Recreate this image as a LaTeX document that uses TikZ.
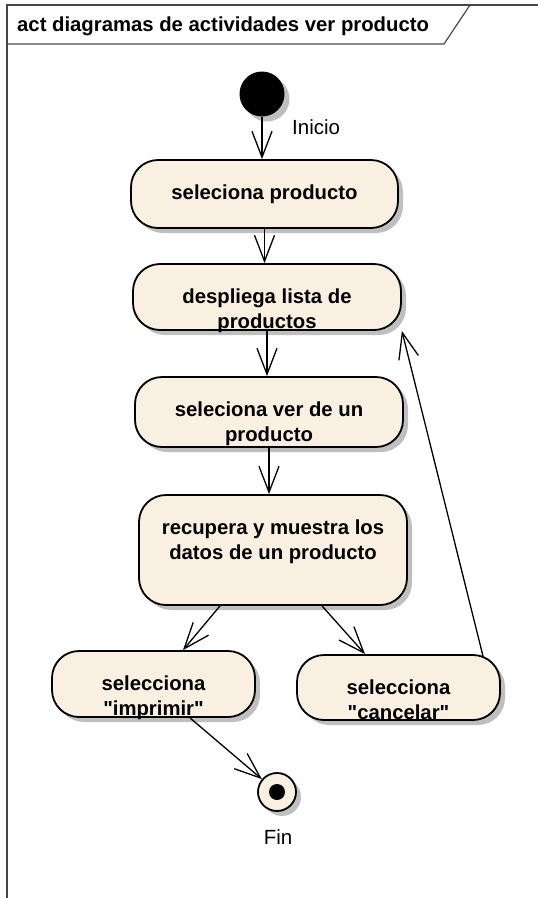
\documentclass[tikz,border=0pt]{standalone}
\usepackage{fontspec}
\setmainfont{Liberation Sans}
\usetikzlibrary{arrows.meta,shadows}

\definecolor{actfill}{RGB}{250,240,226}
\definecolor{framegray}{RGB}{70,70,70}

\tikzset{
  sombra/.style={drop shadow={shadow xshift=5pt, shadow yshift=-5pt, fill=black!25, opacity=1}},
  act/.style={draw, line width=1.8pt, fill=actfill, rounded corners=27pt, inner sep=0pt, sombra},
  txt/.style={font=\fontsize{20.3}{25}\selectfont\bfseries, align=center, anchor=north, inner sep=0pt, yshift=-25pt},
  flow/.style={line width=1.3pt, -{Straight Barb[length=26pt,width=20pt]}},
  note/.style={font=\fontsize{20.5}{24}\selectfont, inner sep=0pt}
}

\begin{document}
\begin{tikzpicture}[x=1pt,y=-1pt]
\useasboundingbox (0,0) rectangle (538,898);

% Frame
\draw[framegray, line width=1.2pt] (7,898) -- (7,5) -- (538,5);
\draw[framegray, line width=1.2pt] (7,44) -- (444,44) -- (470,5);
\node[font=\fontsize{20.3}{24}\selectfont\bfseries, anchor=west, inner sep=0pt] (titulo) at (17,26)
  {act diagramas de actividades ver producto};

% Initial node
\node[circle, fill=black, minimum size=45pt, inner sep=0pt, sombra] (inicio) at (262,94) {};
\node[note, anchor=west] (inicioetq) at (292,127) {Inicio};

% Actions
\node[act, minimum width=267pt, minimum height=68pt,
  label={[txt]north:seleciona producto}] (seleciona) at (264.5,194) {};
\node[act, minimum width=268pt, minimum height=66pt,
  label={[txt]north:{despliega lista de\\productos}}] (lista) at (267,297) {};
\node[act, minimum width=268pt, minimum height=70pt,
  label={[txt]north:{seleciona ver de un\\producto}}] (ver) at (269,412) {};
\node[act, minimum width=268pt, minimum height=110pt,
  label={[txt]north:{recupera y muestra los\\datos de un producto}}] (datos) at (273,550) {};
\node[act, minimum width=203pt, minimum height=66pt,
  label={[txt]north:{selecciona\\\textquotedbl imprimir\textquotedbl}}] (imprimir) at (153.5,684) {};
\node[act, minimum width=203pt, minimum height=65pt,
  label={[txt]north:{selecciona\\\textquotedbl cancelar\textquotedbl}}] (cancelar) at (398.5,687.5) {};

% Final node
\node[circle, draw, line width=1.8pt, fill=actfill, minimum size=38pt, inner sep=0pt, sombra] (fin) at (277,792) {};
\node[circle, fill=black, minimum size=16pt, inner sep=0pt] (finpunto) at (fin) {};
\node[note] (finetq) at (278,837) {Fin};

% Flows
\draw[flow] (inicio) -- (inicio |- seleciona.north);
\draw[flow] (seleciona.south) -- (seleciona.south |- lista.north);
\draw[flow] (lista.south) -- (lista.south |- ver.north);
\draw[flow] (ver.south) -- (ver.south |- datos.north);
\draw[flow] ([xshift=-53pt]datos.south) -- ([xshift=29.5pt]imprimir.north);
\draw[flow] ([xshift=49pt]datos.south) -- ([xshift=-33.5pt]cancelar.north);
\draw[flow] ([xshift=84.5pt,yshift=-2pt]cancelar.north) -- (lista.south east);
\draw[flow] ([xshift=36.5pt]imprimir.south) -- (fin);

\end{tikzpicture}
\end{document}
